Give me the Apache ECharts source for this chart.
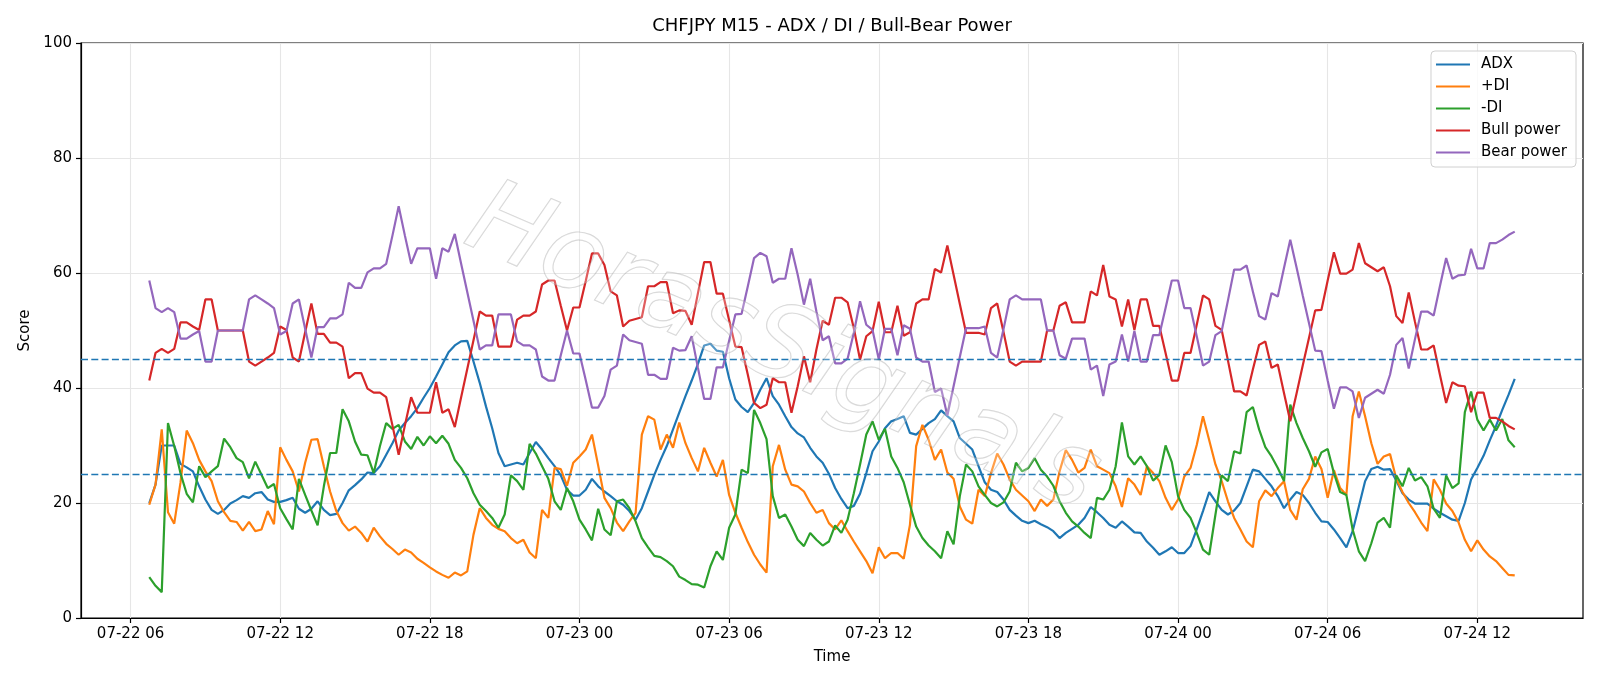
<!DOCTYPE html>
<html>
<head>
<meta charset="utf-8">
<title>CHFJPY M15 - ADX / DI / Bull-Bear Power</title>
<script src="https://cdn.jsdelivr.net/npm/echarts@6/dist/echarts.min.js"></script>
<style>
    html, body { margin: 0; padding: 0; background: #fff; }
    #chart { width: 1600px; height: 686px; }
</style>
</head>
<body>
<div id="chart"></div>
<script>
// M15 bars, first bar at 07-22 06:45
const startTime = new Date(2024, 6, 22, 6, 45).getTime();
const barMs = 15 * 60 * 1000;

// x tick marks every 6 hours, 07-22 06 .. 07-24 12
const firstTick = new Date(2024, 6, 22, 6, 0).getTime();
const tickCount = 10;
const tickStepMs = 6 * 3600 * 1000;

const adx = [
    20.0, 23.2, 30.0, 30.0, 30.0, 26.8, 26.2, 25.5, 22.9, 20.6, 18.8, 18.1, 18.8, 19.9, 20.5, 21.2, 20.9, 21.7, 21.9, 20.6,
    20.2, 20.2, 20.5, 20.9, 19.0, 18.3, 19.0, 20.3, 18.8, 17.9, 18.1, 20.0, 22.2, 23.1, 24.1, 25.3, 25.2, 26.4, 28.4, 30.4,
    32.6, 33.9, 35.1, 36.5, 38.3, 40.0, 42.0, 44.1, 46.2, 47.4, 48.1, 48.2, 44.6, 40.9, 36.8, 33.0, 28.7, 26.4, 26.7, 27.0,
    26.7, 28.7, 30.6, 29.3, 27.8, 26.4, 24.8, 22.3, 21.3, 21.3, 22.3, 24.2, 22.9, 22.0, 21.2, 20.3, 19.7, 18.6, 17.1, 19.1,
    22.0, 24.9, 27.5, 29.9, 32.8, 35.7, 38.6, 41.3, 44.2, 47.4, 47.7, 46.5, 46.3, 41.7, 38.0, 36.7, 35.8, 37.4, 39.7, 41.7,
    38.6, 37.1, 35.1, 33.2, 32.1, 31.4, 29.6, 28.1, 27.0, 25.1, 22.6, 20.7, 19.1, 19.5, 21.6, 25.2, 29.0, 30.7, 33.0, 34.2,
    34.6, 35.1, 32.2, 31.9, 32.9, 33.9, 34.6, 36.1, 35.1, 34.2, 31.3, 30.3, 29.3, 26.4, 23.6, 22.3, 21.9, 20.6, 18.8, 17.8,
    16.9, 16.5, 16.9, 16.3, 15.8, 15.1, 13.9, 14.8, 15.5, 16.2, 17.4, 19.3, 18.4, 17.4, 16.2, 15.7, 16.8, 15.9, 14.9, 14.8,
    13.3, 12.2, 11.0, 11.6, 12.3, 11.3, 11.3, 12.5, 15.4, 18.6, 21.9, 20.3, 18.8, 18.0, 18.7, 20.0, 22.9, 25.8, 25.5, 24.2,
    22.9, 21.2, 19.1, 20.6, 21.9, 21.4, 20.0, 18.3, 16.8, 16.7, 15.4, 13.9, 12.3, 15.1, 19.4, 23.8, 25.9, 26.3, 25.8, 25.9,
    23.9, 21.7, 20.6, 19.9, 19.9, 19.9, 19.0, 18.3, 17.7, 17.1, 16.9, 20.0, 24.1, 26.1, 28.2, 30.9, 33.4, 36.2, 38.8, 41.6
];

const plusDI = [
    19.7, 23.2, 32.8, 18.4, 16.4, 23.5, 32.6, 30.4, 27.5, 25.5, 23.8, 20.3, 18.4, 16.9, 16.7, 15.2, 16.7, 15.1, 15.4, 18.6,
    16.3, 29.7, 27.5, 25.5, 22.0, 27.0, 31.0, 31.1, 26.4, 22.0, 18.6, 16.5, 15.2, 15.9, 14.8, 13.3, 15.7, 14.2, 12.9, 12.0,
    11.0, 11.9, 11.4, 10.3, 9.6, 8.8, 8.1, 7.5, 7.0, 7.9, 7.4, 8.1, 14.5, 19.1, 17.4, 16.2, 15.5, 15.1, 13.9, 13.0,
    13.6, 11.4, 10.4, 18.8, 17.4, 26.1, 25.9, 23.0, 27.0, 28.1, 29.3, 31.9, 26.5, 20.9, 19.1, 16.6, 15.1, 16.8, 18.3, 31.9,
    35.1, 34.5, 29.3, 31.9, 29.6, 34.0, 30.4, 27.8, 25.5, 29.6, 27.0, 24.6, 27.5, 21.4, 18.3, 15.7, 13.2, 11.0, 9.3, 7.9,
    26.4, 30.1, 25.8, 23.2, 22.9, 22.0, 20.0, 18.3, 18.8, 16.5, 15.4, 17.0, 15.1, 13.3, 11.6, 9.9, 7.8, 12.3, 10.4, 11.3,
    11.3, 10.3, 16.2, 29.9, 33.6, 31.0, 27.5, 29.3, 25.3, 24.2, 19.4, 17.1, 16.4, 22.3, 21.2, 25.2, 28.6, 26.7, 24.1, 22.3,
    21.3, 20.3, 18.6, 20.6, 19.5, 20.6, 25.5, 29.2, 27.5, 25.3, 26.1, 29.3, 26.4, 25.8, 25.2, 22.9, 19.3, 24.3, 23.2, 21.4,
    26.4, 25.2, 23.8, 20.9, 18.8, 20.6, 24.6, 26.1, 30.1, 35.1, 30.9, 26.7, 23.8, 20.3, 17.4, 15.4, 13.3, 12.3, 20.3, 22.2,
    21.2, 22.6, 23.8, 18.8, 17.1, 22.4, 24.2, 28.1, 25.9, 20.9, 25.7, 22.6, 21.4, 35.1, 39.4, 35.1, 30.4, 26.8, 28.1, 28.5,
    24.2, 21.9, 20.0, 18.4, 16.6, 15.1, 24.1, 22.3, 19.9, 18.6, 16.6, 13.6, 11.6, 13.5, 11.9, 10.7, 9.9, 8.7, 7.5, 7.4
];

const minusDI = [
    7.1, 5.6, 4.5, 33.9, 29.9, 25.2, 21.6, 20.1, 26.4, 24.5, 25.5, 26.4, 31.2, 29.7, 27.8, 27.1, 24.3, 27.2, 24.9, 22.6,
    23.3, 19.1, 17.2, 15.4, 24.2, 21.4, 18.7, 16.1, 22.9, 28.7, 28.7, 36.3, 34.2, 30.7, 28.4, 28.3, 25.2, 29.9, 33.9, 32.9,
    33.6, 30.7, 29.4, 31.5, 30.0, 31.6, 30.4, 31.7, 30.3, 27.5, 26.1, 24.3, 21.7, 19.7, 18.6, 17.4, 15.7, 18.0, 24.8, 23.8,
    22.3, 30.3, 28.6, 26.4, 24.2, 20.3, 18.8, 22.6, 20.3, 17.1, 15.4, 13.5, 19.0, 15.4, 14.4, 20.3, 20.6, 19.1, 16.8, 13.9,
    12.3, 10.8, 10.6, 9.9, 9.0, 7.2, 6.6, 5.9, 5.8, 5.3, 9.0, 11.6, 10.1, 15.7, 18.0, 25.8, 25.2, 36.2, 33.9, 31.1,
    21.2, 17.4, 18.0, 15.9, 13.6, 12.5, 14.8, 13.6, 12.6, 13.3, 16.1, 14.8, 17.1, 21.7, 26.7, 31.9, 34.2, 31.0, 32.9, 28.1,
    26.1, 23.6, 19.7, 15.9, 13.9, 12.6, 11.6, 10.4, 15.1, 12.8, 21.2, 26.7, 25.5, 22.9, 21.4, 20.0, 19.4, 20.1, 22.0, 27.0,
    25.5, 26.1, 27.8, 25.8, 24.6, 23.0, 20.3, 18.3, 16.8, 15.9, 14.8, 13.9, 20.9, 20.6, 22.3, 26.4, 34.0, 28.1, 26.7, 28.1,
    26.4, 23.9, 24.9, 30.0, 27.1, 21.2, 18.8, 17.4, 14.8, 11.9, 11.0, 18.0, 24.8, 23.8, 29.0, 28.6, 35.8, 36.7, 32.8, 29.7,
    28.1, 26.1, 23.8, 37.1, 33.9, 31.3, 29.0, 26.3, 28.8, 29.4, 25.2, 21.9, 21.4, 15.4, 11.6, 9.9, 13.0, 16.6, 17.4, 15.7,
    24.8, 22.9, 26.1, 23.9, 24.5, 22.9, 19.0, 17.4, 24.8, 22.6, 23.4, 35.8, 39.4, 34.5, 32.6, 34.5, 32.6, 34.6, 30.9, 29.7
];

const bullPower = [
    41.3, 46.1, 46.8, 46.1, 46.8, 51.4, 51.4, 50.7, 50.1, 55.4, 55.4, 50.0, 50.0, 50.0, 50.0, 50.0, 44.6, 43.9, 44.6, 45.3,
    46.1, 50.7, 50.1, 45.3, 44.6, 49.7, 54.7, 49.4, 49.4, 47.9, 47.9, 47.2, 41.7, 42.6, 42.6, 39.9, 39.2, 39.2, 38.4, 33.5,
    28.4, 33.5, 38.4, 35.7, 35.7, 35.7, 41.0, 35.7, 36.3, 33.2, 38.3, 43.3, 48.3, 53.3, 52.6, 52.6, 47.2, 47.2, 47.2, 51.9,
    52.6, 52.6, 53.3, 58.0, 58.7, 58.7, 54.3, 50.0, 54.0, 54.0, 58.6, 63.4, 63.4, 61.4, 56.8, 56.1, 50.7, 51.7, 52.0, 52.3,
    57.7, 57.7, 58.4, 58.4, 53.0, 53.5, 53.4, 51.0, 56.5, 61.9, 61.9, 56.4, 56.4, 51.8, 47.2, 47.1, 42.3, 37.4, 36.5, 37.1,
    41.7, 41.0, 41.0, 35.7, 40.3, 45.5, 41.0, 46.7, 51.7, 51.0, 55.7, 55.7, 54.9, 50.4, 44.9, 49.0, 49.9, 55.0, 49.7, 49.7,
    54.3, 49.1, 49.7, 54.7, 55.4, 55.4, 60.7, 60.1, 64.8, 59.7, 54.6, 49.6, 49.6, 49.6, 49.3, 53.9, 54.7, 49.8, 44.6, 43.9,
    44.6, 44.6, 44.6, 44.6, 50.0, 50.0, 54.3, 54.9, 51.4, 51.4, 51.4, 56.8, 56.1, 61.4, 55.9, 55.4, 50.7, 55.4, 50.1, 55.4,
    55.4, 50.8, 50.8, 46.1, 41.3, 41.3, 46.1, 46.1, 51.0, 56.1, 55.4, 50.8, 50.1, 44.8, 39.4, 39.4, 38.7, 43.2, 47.5, 48.1,
    43.5, 44.1, 39.1, 34.2, 39.0, 43.9, 48.7, 53.5, 53.6, 58.7, 63.6, 59.9, 59.9, 60.6, 65.2, 61.7, 61.0, 60.3, 61.0, 57.7,
    52.5, 51.3, 56.6, 51.5, 46.7, 46.7, 47.4, 42.3, 37.4, 41.0, 40.4, 40.3, 35.8, 39.2, 39.2, 34.8, 34.8, 34.2, 33.4, 32.8
];

const bearPower = [
    58.7, 53.9, 53.2, 53.9, 53.2, 48.6, 48.6, 49.3, 49.9, 44.6, 44.6, 50.0, 50.0, 50.0, 50.0, 50.0, 55.4, 56.1, 55.4, 54.7,
    53.9, 49.3, 49.9, 54.7, 55.4, 50.3, 45.3, 50.6, 50.6, 52.1, 52.1, 52.8, 58.3, 57.4, 57.4, 60.1, 60.8, 60.8, 61.6, 66.5,
    71.6, 66.5, 61.6, 64.3, 64.3, 64.3, 59.0, 64.3, 63.7, 66.8, 61.7, 56.7, 51.7, 46.7, 47.4, 47.4, 52.8, 52.8, 52.8, 48.1,
    47.4, 47.4, 46.7, 42.0, 41.3, 41.3, 45.7, 50.0, 46.0, 46.0, 41.4, 36.6, 36.6, 38.6, 43.2, 43.9, 49.3, 48.3, 48.0, 47.7,
    42.3, 42.3, 41.6, 41.6, 47.0, 46.5, 46.6, 49.0, 43.5, 38.1, 38.1, 43.6, 43.6, 48.2, 52.8, 52.9, 57.7, 62.6, 63.5, 62.9,
    58.3, 59.0, 59.0, 64.3, 59.7, 54.5, 59.0, 53.3, 48.3, 49.0, 44.3, 44.3, 45.1, 49.6, 55.1, 51.0, 50.1, 45.0, 50.3, 50.3,
    45.7, 50.9, 50.3, 45.3, 44.6, 44.6, 39.3, 39.9, 35.2, 40.3, 45.4, 50.4, 50.4, 50.4, 50.7, 46.1, 45.3, 50.2, 55.4, 56.1,
    55.4, 55.4, 55.4, 55.4, 50.0, 50.0, 45.7, 45.1, 48.6, 48.6, 48.6, 43.2, 43.9, 38.6, 44.1, 44.6, 49.3, 44.6, 49.9, 44.6,
    44.6, 49.2, 49.2, 53.9, 58.7, 58.7, 53.9, 53.9, 49.0, 43.9, 44.6, 49.2, 49.9, 55.2, 60.6, 60.6, 61.3, 56.8, 52.5, 51.9,
    56.5, 55.9, 60.9, 65.8, 61.0, 56.1, 51.3, 46.5, 46.4, 41.3, 36.4, 40.1, 40.1, 39.4, 34.8, 38.3, 39.0, 39.7, 39.0, 42.3,
    47.5, 48.7, 43.4, 48.5, 53.3, 53.3, 52.6, 57.7, 62.6, 59.0, 59.6, 59.7, 64.2, 60.8, 60.8, 65.2, 65.2, 65.8, 66.6, 67.2
];

const seriesNames = ['ADX', '+DI', '-DI', 'Bull power', 'Bear power'];
const seriesColors = ['#1f77b4', '#ff7f0e', '#2ca02c', '#d62728', '#9467bd'];
const levelLines = [45, 25];

const FONT = 'DejaVu Sans';
const times = adx.map((v, i) => startTime + i * barMs);
const span = times[times.length - 1] - times[0];
let tickValues = [];
for (let k = 0; k < tickCount; k++) {
    tickValues.push(firstTick + k * tickStepMs);
}

function pad(n) {
    return (n < 10 ? '0' : '') + n;
}

function toPairs(values) {
    return values.map((v, i) => [times[i], v]);
}

let series = [adx, plusDI, minusDI, bullPower, bearPower].map((values, k) => ({
    name: seriesNames[k],
    type: 'line',
    data: toPairs(values),
    symbol: 'none',
    showSymbol: false,
    color: seriesColors[k],
    lineStyle: {width: 2.2, color: seriesColors[k]},
    emphasis: {disabled: true},
    silent: true
}));

// threshold lines drawn with the ADX series
series[0].markLine = {
    silent: true,
    symbol: ['none', 'none'],
    label: {show: false},
    emphasis: {disabled: true},
    lineStyle: {color: '#1f77b4', type: [7, 3.3], width: 1.4},
    data: levelLines.map(v => ({yAxis: v}))
};

const chart = echarts.init(document.getElementById('chart'));
chart.setOption({
    animation: false,
    backgroundColor: '#fff',
    textStyle: {fontFamily: FONT},
    title: {
        text: 'CHFJPY M15 - ADX / DI / Bull-Bear Power',
        left: 832,
        top: 17,
        padding: 0,
        textAlign: 'center',
        textStyle: {fontFamily: FONT, fontSize: 18, fontWeight: 'normal', color: '#000'}
    },
    legend: {
        data: seriesNames,
        orient: 'vertical',
        right: 24,
        top: 51,
        padding: [6, 9, 7, 5],
        icon: 'rect',
        itemWidth: 34,
        itemHeight: 2.2,
        itemGap: 7,
        backgroundColor: 'rgba(255,255,255,0.8)',
        borderColor: '#d0d0d0',
        borderWidth: 1,
        borderRadius: 4,
        textStyle: {fontFamily: FONT, fontSize: 15, lineHeight: 15, color: '#000', padding: [0, 0, 0, 6]}
    },
    grid: {
        left: 81,
        right: 17,
        top: 43,
        bottom: 68,
        show: true,
        borderColor: '#000',
        borderWidth: 1.2,
        containLabel: false
    },
    xAxis: {
        type: 'value',
        min: times[0] - span * 0.05,
        max: times[times.length - 1] + span * 0.05,
        name: 'Time',
        nameLocation: 'middle',
        nameGap: 32,
        nameTextStyle: {fontFamily: FONT, fontSize: 15, color: '#000'},
        axisLine: {show: true, onZero: false, lineStyle: {color: '#000', width: 1.2}},
        axisTick: {show: true, length: 5, customValues: tickValues, lineStyle: {color: '#000', width: 1.2}},
        axisLabel: {
            fontFamily: FONT,
            fontSize: 15,
            color: '#000',
            margin: 9,
            customValues: tickValues,
            formatter: function (value) {
                const d = new Date(value);
                return pad(d.getMonth() + 1) + '-' + pad(d.getDate()) + ' ' + pad(d.getHours());
            }
        },
        splitLine: {show: true, lineStyle: {color: '#e6e6e6', width: 1.1}}
    },
    yAxis: {
        type: 'value',
        min: 0,
        max: 100,
        interval: 20,
        name: 'Score',
        nameLocation: 'middle',
        nameGap: 48,
        nameTextStyle: {fontFamily: FONT, fontSize: 15, color: '#000'},
        axisLine: {show: true, lineStyle: {color: '#000', width: 1.2}},
        axisTick: {show: true, length: 5, lineStyle: {color: '#000', width: 1.2}},
        axisLabel: {fontFamily: FONT, fontSize: 15, color: '#000', margin: 9},
        splitLine: {show: true, lineStyle: {color: '#e6e6e6', width: 1.1}}
    },
    graphic: [
        {
            // faint watermark across the plot
            type: 'text',
            x: 782,
            y: 352,
            rotation: -0.41,
            z: 100,
            silent: true,
            style: {
                text: 'HorasSignals',
                font: 'italic 104px "DejaVu Sans"',
                align: 'center',
                verticalAlign: 'middle',
                fill: 'rgba(255,255,255,0.25)',
                stroke: 'rgba(150,150,150,0.4)',
                lineWidth: 1.2
            }
        }
    ],
    series: series
});
</script>
</body>
</html>
